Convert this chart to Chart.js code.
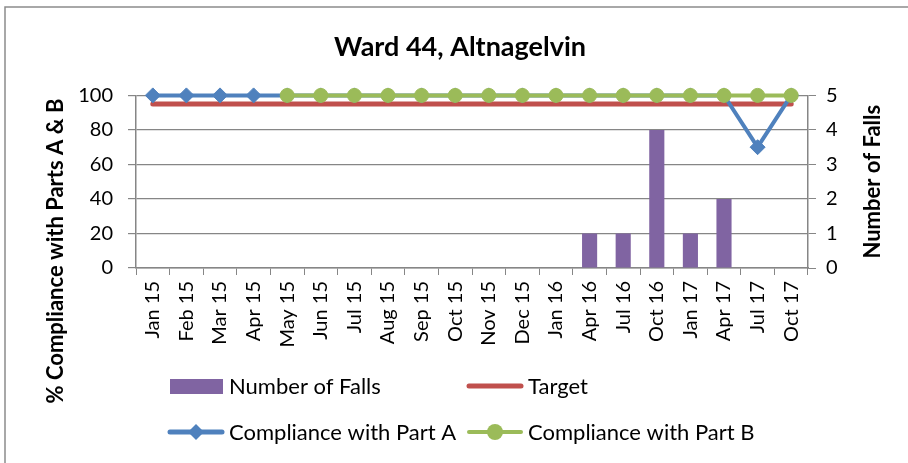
<!DOCTYPE html>
<html>
<head>
<meta charset="utf-8">
<script src="https://cdn.jsdelivr.net/npm/chart.js@4.4.1/dist/chart.umd.min.js"></script>
<style>
  html, body { margin: 0; padding: 0; background: #fff; }
  #wrap { position: relative; width: 908px; height: 463px; }
</style>
</head>
<body>
<div id="wrap"><canvas id="c" width="908" height="463"></canvas></div>
<script>
const categories = ['Jan 15','Feb 15','Mar 15','Apr 15','May 15','Jun 15','Jul 15','Aug 15','Sep 15','Oct 15','Nov 15','Dec 15','Jan 16','Apr 16','Jul 16','Oct 16','Jan 17','Apr 17','Jul 17','Oct 17'];
const numberOfFalls = [0,0,0,0,0,0,0,0,0,0,0,0,0,1,1,4,1,2,0,0];
const target = [95,95,95,95,95,95,95,95,95,95,95,95,95,95,95,95,95,95,95,95];
const partA = [100,100,100,100,100,100,100,100,100,100,100,100,100,100,100,100,100,100,70,100];
const partB = [null,null,null,null,100,100,100,100,100,100,100,100,100,100,100,100,100,100,100,100];
const leftTicks = [0,20,40,60,80,100];
const rightTicks = [0,1,2,3,4,5];
const leftTitle = '% Compliance with Parts A & B';
const rightTitle = 'Number of Falls';

const FONT = 'Lato, "Open Sans", sans-serif';
const GRID = '#868686';
const PURPLE = '#8064A2', RED = '#C0504D', BLUE = '#4F81BD', GREEN = '#9BBB59';

const framePlugin = {
  id: 'frame',
  beforeDraw(chart) {
    const ctx = chart.ctx;
    ctx.save();
    ctx.fillStyle = '#fff';
    ctx.fillRect(0, 0, chart.width, chart.height);
    ctx.strokeStyle = '#8c8c8c';
    ctx.lineWidth = 1.5;
    ctx.beginPath();
    ctx.moveTo(5, chart.height);
    ctx.lineTo(5, 7);
    ctx.lineTo(chart.width, 7);
    ctx.stroke();
    ctx.restore();
  }
};

const extrasPlugin = {
  id: 'extras',
  afterDraw(chart) {
    const ctx = chart.ctx;
    const ds = chart.data.datasets;
    const ca = chart.chartArea;
    ctx.save();
    ctx.font = 'bold 22px ' + FONT;
    ctx.fillStyle = '#000';
    ctx.textAlign = 'center';
    ctx.textBaseline = 'middle';
    ctx.save();
    ctx.translate(56, 251);
    ctx.rotate(-Math.PI / 2);
    ctx.fillText(leftTitle, 0, 0);
    ctx.restore();
    ctx.save();
    ctx.translate(873, (ca.top + ca.bottom) / 2);
    ctx.rotate(-Math.PI / 2);
    ctx.fillText(rightTitle, 0, 0);
    ctx.restore();
    ctx.restore();

    // legend
    ctx.save();
    ctx.font = '22px ' + FONT;
    ctx.fillStyle = '#000';
    ctx.textBaseline = 'middle';
    ctx.textAlign = 'left';
    const r1 = ca.bottom + 118;
    const r2 = ca.bottom + 164;
    const c1 = 168, c2 = 467, lw = 56, tg = 5;
    ctx.fillStyle = ds[0].backgroundColor;
    ctx.fillRect(c1 + 2, r1 - 7, 53, 15);
    ctx.fillStyle = '#000';
    ctx.fillText(ds[0].label, c1 + lw + tg, r1 + 1);
    ctx.strokeStyle = ds[1].borderColor;
    ctx.lineWidth = 5;
    ctx.lineCap = 'round';
    ctx.beginPath(); ctx.moveTo(c2 + 2, r1); ctx.lineTo(c2 + lw - 2, r1); ctx.stroke();
    ctx.fillText(ds[1].label, c2 + lw + tg, r1 + 1);
    ctx.strokeStyle = ds[2].borderColor;
    ctx.lineWidth = 5;
    ctx.beginPath(); ctx.moveTo(c1 + 2, r2); ctx.lineTo(c1 + lw - 2, r2); ctx.stroke();
    ctx.fillStyle = ds[2].pointBackgroundColor;
    const mx = c1 + lw / 2, rr = 8;
    ctx.beginPath();
    ctx.moveTo(mx - rr, r2); ctx.lineTo(mx, r2 - rr); ctx.lineTo(mx + rr, r2); ctx.lineTo(mx, r2 + rr);
    ctx.closePath(); ctx.fill();
    ctx.fillStyle = '#000';
    ctx.fillText(ds[2].label, c1 + lw + tg, r2 + 1);
    ctx.strokeStyle = ds[3].borderColor;
    ctx.lineWidth = 4;
    ctx.beginPath(); ctx.moveTo(c2 + 2, r2); ctx.lineTo(c2 + lw - 2, r2); ctx.stroke();
    ctx.fillStyle = ds[3].pointBackgroundColor;
    ctx.beginPath(); ctx.arc(c2 + lw / 2, r2, 8, 0, Math.PI * 2); ctx.fill();
    ctx.fillStyle = '#000';
    ctx.fillText(ds[3].label, c2 + lw + tg, r2 + 1);
    ctx.restore();
  }
};

new Chart(document.getElementById('c'), {
  data: {
    labels: categories,
    datasets: [
      {
        type: 'bar', label: 'Number of Falls', data: numberOfFalls, yAxisID: 'y1',
        backgroundColor: PURPLE, barPercentage: 0.45, categoryPercentage: 1.0, order: 4
      },
      {
        type: 'line', label: 'Target', data: target, yAxisID: 'y',
        borderColor: RED, backgroundColor: RED, borderWidth: 5, pointRadius: 0,
        borderCapStyle: 'round', order: 3, clip: false
      },
      {
        type: 'line', label: 'Compliance with Part A', data: partA, yAxisID: 'y',
        borderColor: BLUE, backgroundColor: BLUE, borderWidth: 4,
        pointStyle: 'rectRot', pointRadius: 7.5, pointBackgroundColor: BLUE, pointBorderColor: BLUE,
        pointBorderWidth: 1, order: 2, clip: false
      },
      {
        type: 'line', label: 'Compliance with Part B', data: partB, yAxisID: 'y',
        borderColor: GREEN, backgroundColor: GREEN, borderWidth: 4,
        pointStyle: 'circle', pointRadius: 7, pointBackgroundColor: GREEN, pointBorderColor: GREEN,
        pointBorderWidth: 1, order: 1, clip: false
      }
    ]
  },
  options: {
    responsive: false,
    animation: false,
    layout: { padding: { left: 31, right: 19, top: 0, bottom: 0 } },
    plugins: {
      legend: { display: false },
      tooltip: { enabled: false },
      title: {
        display: true, text: 'Ward 44, Altnagelvin', color: '#000',
        font: { family: FONT, size: 27, weight: 'bold' },
        padding: { top: 31, bottom: 32 }
      }
    },
    scales: {
      x: {
        type: 'category',
        offset: true,
        grid: { display: true, drawOnChartArea: false, drawTicks: true, tickLength: 7, color: GRID, offset: true },
        border: { display: true, color: GRID, width: 1.5 },
        ticks: { color: '#000', font: { family: FONT, size: 20 }, minRotation: 90, maxRotation: 90, padding: 6, autoSkip: false },
        afterFit(scale) { scale.height = 195; }
      },
      y: {
        position: 'left', min: 0, max: 100,
        afterBuildTicks(scale) { scale.ticks = leftTicks.map(v => ({ value: v })); },
        grid: { color: GRID, lineWidth: 1.2, drawTicks: true, tickLength: 8 },
        border: { display: true, color: GRID, width: 1.5 },
        ticks: { color: '#000', font: { family: FONT, size: 20 }, padding: 15 },
        afterFit(scale) { scale.width = 105; }
      },
      y1: {
        position: 'right', min: 0, max: 5,
        afterBuildTicks(scale) { scale.ticks = rightTicks.map(v => ({ value: v })); },
        grid: { drawOnChartArea: false, drawTicks: true, tickLength: 8, color: GRID },
        border: { display: true, color: GRID, width: 1.5 },
        ticks: { color: '#000', font: { family: FONT, size: 20 }, padding: 10 },
        afterFit(scale) { scale.width = 81; }
      }
    }
  },
  plugins: [framePlugin, extrasPlugin]
});
</script>
</body>
</html>
